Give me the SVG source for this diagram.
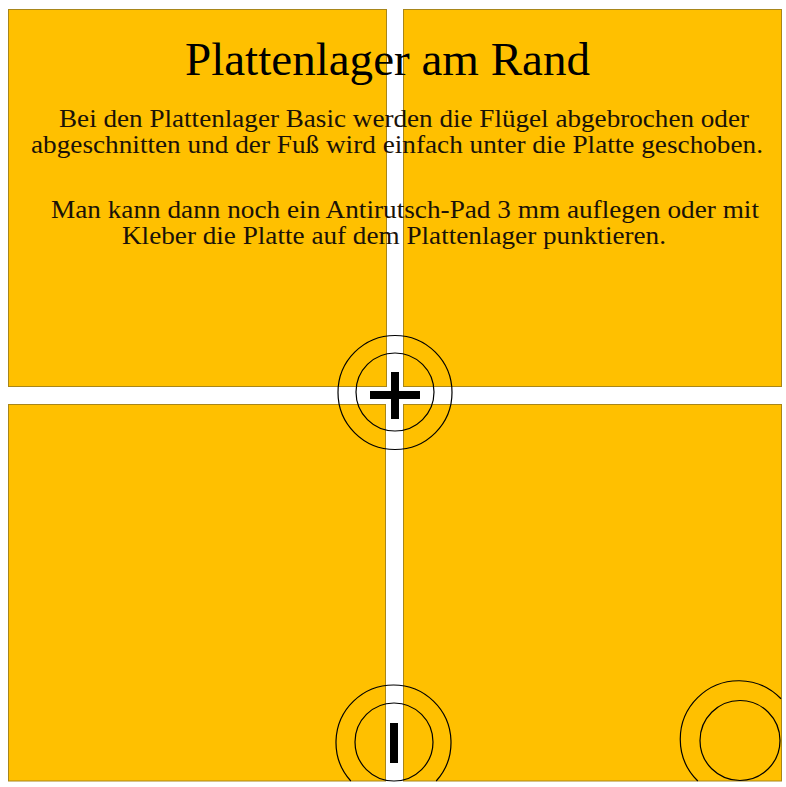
<svg xmlns="http://www.w3.org/2000/svg" width="786" height="787" viewBox="0 0 786 787">
<style>
.tile{fill:#FFC000;stroke:#A8861A;stroke-width:1}
.ring{fill:none;stroke:#000;stroke-width:1.2}
.mark{fill:#000}
.title{font-family:"Liberation Serif","Times New Roman",serif;font-size:47px;fill:#000}
.body{font-family:"Liberation Serif","Times New Roman",serif;font-size:26px;fill:#1a1208}
</style>
<rect width="786" height="787" fill="#fff"/>
<g id="tile-top-left"><rect class="tile" x="8.5" y="9.5" width="378" height="377"/></g>
<g id="tile-top-right"><rect class="tile" x="403.5" y="9.5" width="378" height="377"/></g>
<g id="tile-bottom-left"><rect class="tile" x="8.5" y="404.5" width="377" height="376.5"/></g>
<g id="tile-bottom-right"><rect class="tile" x="403.5" y="404.5" width="378" height="376.5"/></g>
<g id="pad-center">
<circle class="ring" cx="395" cy="392.5" r="57"/>
<circle class="ring" cx="395" cy="392" r="39"/>
<rect class="mark" x="370" y="391" width="50" height="8"/>
<rect class="mark" x="391" y="372" width="8" height="47"/>
</g>
<g id="pad-edge">
<path class="ring" d="M436.21,781 A57.5,57.5 0 1 0 350.79,781"/>
<circle class="ring" cx="394" cy="742" r="39"/>
<rect class="mark" x="390" y="723" width="8" height="40"/>
</g>
<g id="pad-corner">
<path class="ring" d="M781,698.77 A58.5,58.5 0 1 0 697.79,781"/>
<circle class="ring" cx="740" cy="740.5" r="40"/>
</g>
<g id="texts">
<text class="title" x="185" y="75" textLength="405" lengthAdjust="spacingAndGlyphs">Plattenlager am Rand</text>
<text class="body" x="59" y="127" textLength="690" lengthAdjust="spacingAndGlyphs">Bei den Plattenlager Basic werden die Flügel abgebrochen oder</text>
<text class="body" x="31" y="153" textLength="732" lengthAdjust="spacingAndGlyphs">abgeschnitten und der Fuß wird einfach unter die Platte geschoben.</text>
<text class="body" x="51" y="218" textLength="708" lengthAdjust="spacingAndGlyphs">Man kann dann noch ein Antirutsch-Pad 3 mm auflegen oder mit</text>
<text class="body" x="122" y="244" textLength="544" lengthAdjust="spacingAndGlyphs">Kleber die Platte auf dem Plattenlager punktieren.</text>
</g>
</svg>
